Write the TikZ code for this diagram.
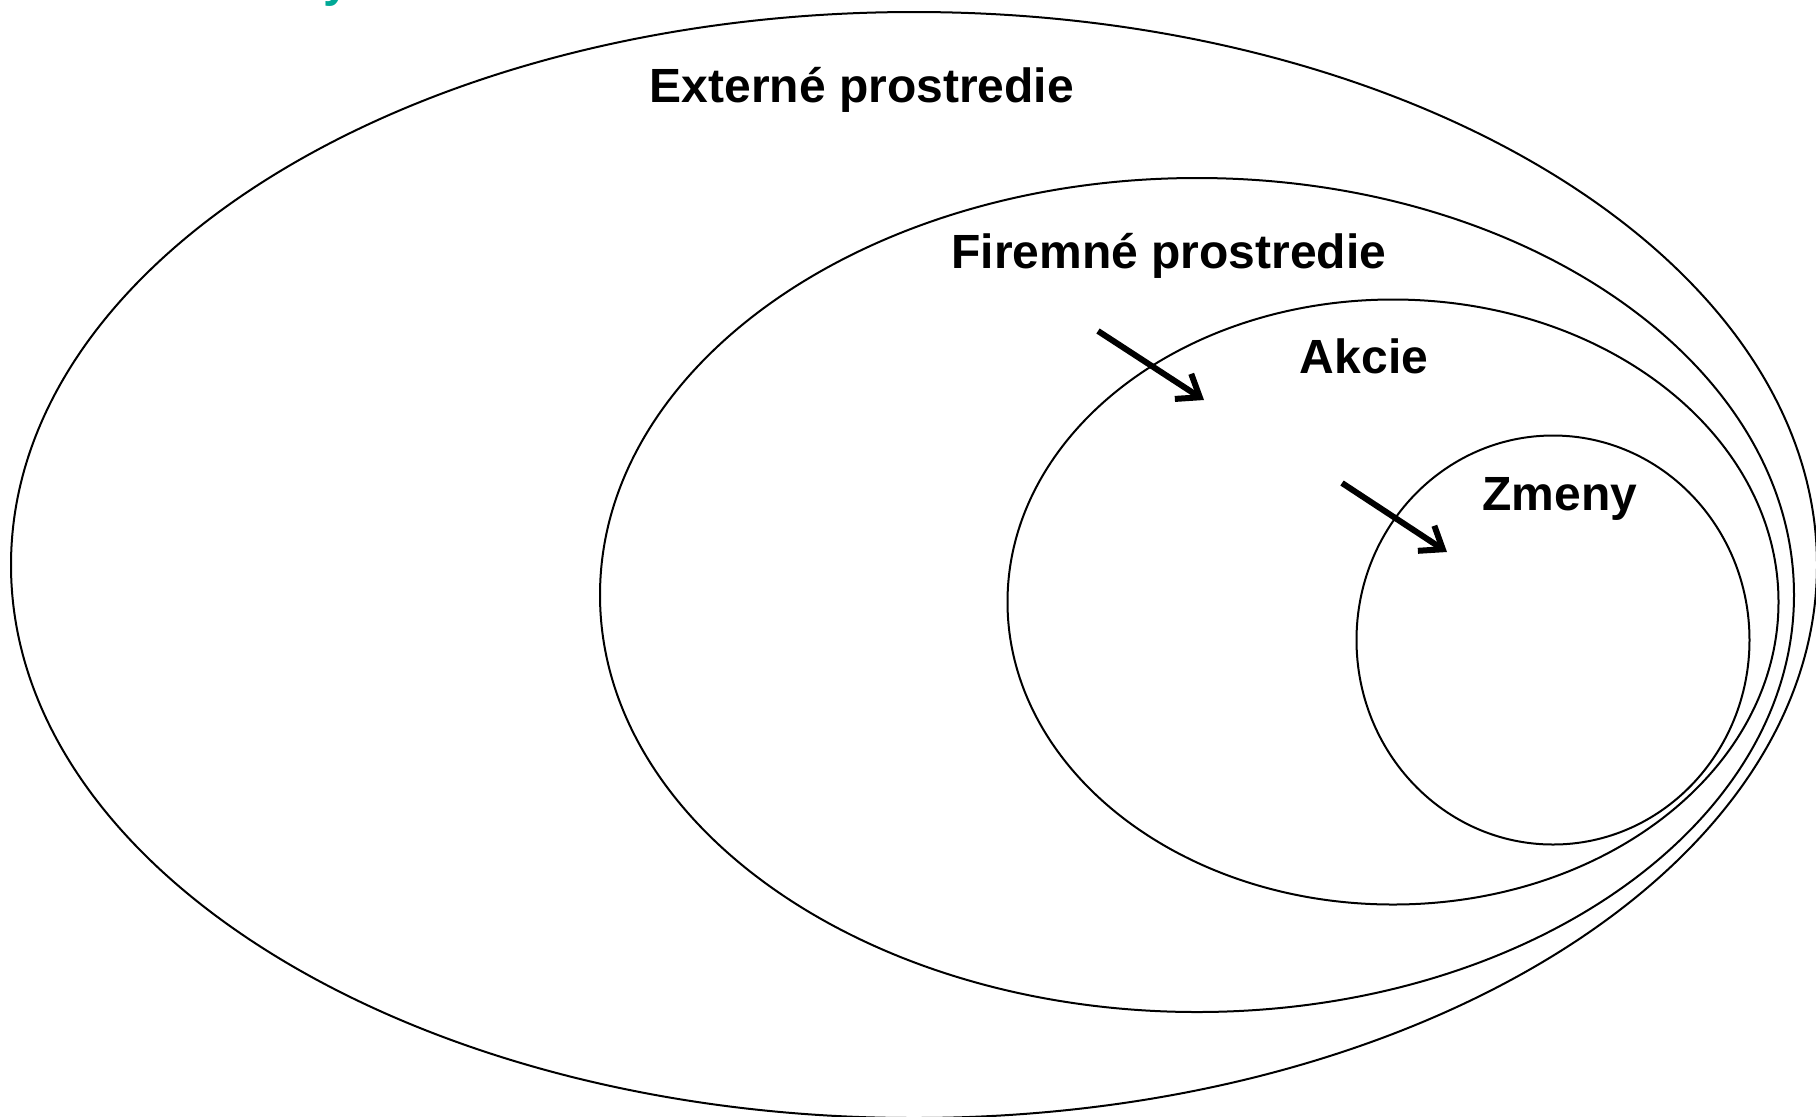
\documentclass[tikz,border=0pt]{standalone}
\usepackage{fontspec}
\setmainfont{Liberation Sans}
\usetikzlibrary{shapes.geometric, arrows.meta}
\definecolor{headteal}{RGB}{0,168,150}

\begin{document}
\begin{tikzpicture}[
		x=0.5pt, y=-0.5pt,
		every node/.style={font=\bfseries\fontsize{24pt}{28pt}\selectfont, anchor=base},
		zone/.style={ellipse, draw, line width=1pt, inner sep=0pt, anchor=center},
		push/.style={-{Straight Barb[length=10pt, width=15pt]}, line width=3pt}
	]
  \clip (0, 0) rectangle (1816, 1116);
  \useasboundingbox (0, 0) rectangle (1816, 1116);
  \node (head) [text=headteal, anchor=base west] at (316, -4) {y};
  \node (ext) [zone, minimum width=903pt, minimum height=553pt] at (914, 565) {};
  \node (firm) [zone, minimum width=597pt, minimum height=417pt] at (1197, 595) {};
  \node (act) [zone, minimum width=385.5pt, minimum height=302.5pt] at (1393, 602) {};
  \node (chg) [zone, minimum width=196.5pt, minimum height=204.5pt] at (1553, 640) {};
  \node (ext_l) at (862, 102) {Externé prostredie};
  \node (firm_l) at (1169, 268) {Firemné prostredie};
  \node (act_l) at (1364, 373) {Akcie};
  \node (chg_l) at (1560, 510) {Zmeny};
  \coordinate (a1_s) at (1098, 331);
  \coordinate (a1_e) at (1204, 400);
  \coordinate (a2_s) at (1342, 483);
  \coordinate (a2_e) at (1447, 552);
  \draw [push] (a1_s) -- (a1_e);
  \draw [push] (a2_s) -- (a2_e);
\end{tikzpicture}
\end{document}
